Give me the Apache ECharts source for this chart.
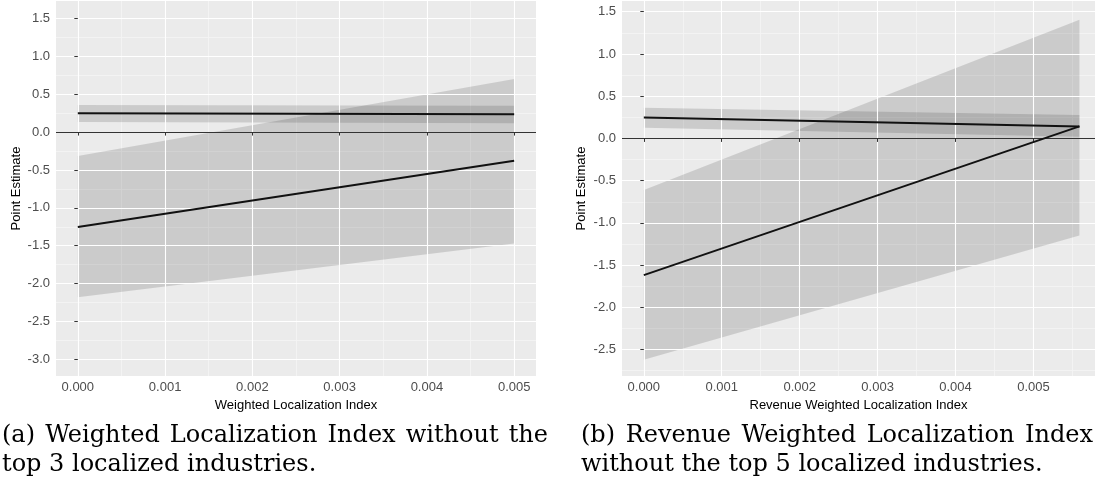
<!DOCTYPE html>
<html><head><meta charset="utf-8">
<script src="https://cdn.jsdelivr.net/npm/echarts@6/dist/echarts.min.js"></script>
<style>html,body{margin:0;padding:0;background:#fff}#c{width:1095px;height:487px}</style>
</head><body><div id="c"></div>
<script>
// ---------- data ----------
const xTickLabelsA = [0, 0.001, 0.002, 0.003, 0.004, 0.005];
const xTickLabelsB = [0, 0.001, 0.002, 0.003, 0.004, 0.005];
const yTickLabelsA = [-3.0, -2.5, -2.0, -1.5, -1.0, -0.5, 0.0, 0.5, 1.0, 1.5];
const yTickLabelsB = [-2.5, -2.0, -1.5, -1.0, -0.5, 0.0, 0.5, 1.0, 1.5];

// Panel (a)
const xA = [0, 0.005];
const estA1 = [0.247, 0.234];
const upA1 = [0.357, 0.348];
const loA1 = [0.132, 0.115];
const estA2 = [-1.253, -0.38];
const upA2 = [-0.317, 0.70];
const loA2 = [-2.18, -1.47];

// Panel (b)
const xB = [0, 0.00559];
const estB1 = [0.249, 0.142];
const upB1 = [0.364, 0.277];
const loB1 = [0.127, 0.02];
const estB2 = [-1.619, 0.142];
const upB2 = [-0.611, 1.406];
const loB2 = [-2.622, -1.149];

const xTitleA = 'Weighted Localization Index';
const xTitleB = 'Revenue Weighted Localization Index';
const yTitle = 'Point Estimate';
const captionA = ['(a) Weighted Localization Index without the', 'top 3 localized industries.'];
const captionB = ['(b) Revenue Weighted Localization Index', 'without the top 5 localized industries.'];

// ---------- helpers ----------
function minors(ticks, step) {
  const out = [];
  for (let i = 0; i < ticks.length - 1; i++) out.push(+((ticks[i] + ticks[i + 1]) / 2).toFixed(6));
  out.unshift(+(ticks[0] - step / 2).toFixed(6));
  out.push(+(ticks[ticks.length - 1] + step / 2).toFixed(6));
  return out;
}
const SANS = 'Liberation Sans';
const tickFont = 13;
const nameFont = 13;

function majorAxis(type, gi, min, max, ticks, digits, name, nameGap) {
  const isX = type === 'x';
  return {
    type: 'value', gridIndex: gi, min: min, max: max,
    position: isX ? 'bottom' : 'left',
    name: name, nameLocation: 'middle', nameGap: nameGap, nameRotate: isX ? 0 : 90,
    nameTextStyle: { color: '#000', fontFamily: SANS, fontSize: nameFont },
    axisLine: { show: false },
    axisTick: { show: true, length: 3.5, lineStyle: { color: '#333', width: 1 }, customValues: ticks },
    axisLabel: { show: true, color: '#4D4D4D', fontFamily: SANS, fontSize: tickFont, margin: isX ? 5 : 6,
      customValues: ticks, formatter: v => Number(v).toFixed(digits) },
    splitLine: { show: true, lineStyle: { color: '#FFFFFF', width: 1.1 } },
    z: 3
  };
}
function minorAxis(type, gi, min, max, ticks, step) {
  const isX = type === 'x';
  const m = minors(ticks, step).filter(v => v > min && v < max);
  return {
    type: 'value', gridIndex: gi, min: min, max: max, position: isX ? 'bottom' : 'left',
    axisLine: { show: false },
    axisTick: { show: false, customValues: m },
    axisLabel: { show: false, customValues: m },
    splitLine: { show: true, lineStyle: { color: '#F4F4F4', width: 0.9 } },
    z: 1
  };
}
function band(gi, xs, up, lo) {
  return {
    type: 'custom', xAxisIndex: gi * 2, yAxisIndex: gi * 2, silent: true, z: 2,
    data: [[xs[0], up[0]]],
    renderItem: function (params, api) {
      const pts = [];
      for (let i = 0; i < xs.length; i++) pts.push(api.coord([xs[i], up[i]]));
      for (let i = xs.length - 1; i >= 0; i--) pts.push(api.coord([xs[i], lo[i]]));
      return { type: 'polygon', shape: { points: pts }, style: { fill: 'rgba(0,0,0,0.135)' } };
    }
  };
}
function line(gi, xs, ys, withZero) {
  const s = {
    type: 'line', xAxisIndex: gi * 2, yAxisIndex: gi * 2, silent: true, z: 4,
    data: xs.map((x, i) => [x, ys[i]]), symbol: 'none',
    lineStyle: { color: '#111', width: 2 }
  };
  if (withZero) {
    s.markLine = { silent: true, symbol: 'none', label: { show: false }, z: 3,
      lineStyle: { color: '#333', width: 1, type: 'solid' }, data: [{ yAxis: 0 }] };
  }
  return s;
}

// ---------- justified captions ----------
const SERIF = 'DejaVu Serif';
const capSize = 24;
const capFont = capSize + 'px "' + SERIF + '"';
const ctx = document.createElement('canvas').getContext('2d');
ctx.font = capFont;
function textLine(str, x0, y, x1) {
  const els = [];
  if (x1 == null) {
    els.push({ type: 'text', x: x0, y: y, style: { text: str, font: capFont, fill: '#000' } });
    return els;
  }
  const words = str.split(' ');
  const widths = words.map(w => ctx.measureText(w).width);
  const total = widths.reduce((a, b) => a + b, 0);
  const gap = (x1 - x0 - total) / (words.length - 1);
  let x = x0;
  words.forEach((w, i) => {
    els.push({ type: 'text', x: x, y: y, style: { text: w, font: capFont, fill: '#000' } });
    x += widths[i] + gap;
  });
  return els;
}
const captionEls = [].concat(
  textLine(captionA[0], 2, 424, 548),
  textLine(captionA[1], 2, 453),
  textLine(captionB[0], 581, 424, 1093),
  textLine(captionB[1], 581, 453)
);

// ---------- chart ----------
const chart = echarts.init(document.getElementById('c'), null, { renderer: 'canvas' });
const yMinA = -3.22, yMaxA = 1.73, xMinA = -0.00025, xMaxA = 0.00525;
const yMinB = -2.813, yMaxB = 1.627, xMinB = -0.00028, xMaxB = 0.00579;
chart.setOption({
  animation: false,
  backgroundColor: '#fff',
  grid: [
    { left: 56, top: 1, width: 480, height: 375, show: true, backgroundColor: '#EBEBEB', borderWidth: 0, containLabel: false },
    { left: 622, top: 1, right: 0, height: 375, show: true, backgroundColor: '#EBEBEB', borderWidth: 0, containLabel: false }
  ],
  xAxis: [
    majorAxis('x', 0, xMinA, xMaxA, xTickLabelsA, 3, xTitleA, 22),
    minorAxis('x', 0, xMinA, xMaxA, xTickLabelsA, 0.001),
    majorAxis('x', 1, xMinB, xMaxB, xTickLabelsB, 3, xTitleB, 22),
    minorAxis('x', 1, xMinB, xMaxB, xTickLabelsB, 0.001)
  ],
  yAxis: [
    majorAxis('y', 0, yMinA, yMaxA, yTickLabelsA, 1, yTitle, 33),
    minorAxis('y', 0, yMinA, yMaxA, yTickLabelsA, 0.5),
    majorAxis('y', 1, yMinB, yMaxB, yTickLabelsB, 1, yTitle, 34),
    minorAxis('y', 1, yMinB, yMaxB, yTickLabelsB, 0.5)
  ],
  series: [
    { type: 'line', xAxisIndex: 1, yAxisIndex: 1, data: [], silent: true },
    { type: 'line', xAxisIndex: 3, yAxisIndex: 3, data: [], silent: true },
    band(0, xA, upA1, loA1),
    band(0, xA, upA2, loA2),
    line(0, xA, estA1, true),
    line(0, xA, estA2, false),
    band(1, xB, upB1, loB1),
    band(1, xB, upB2, loB2),
    line(1, xB, estB1, true),
    line(1, xB, estB2, false)
  ],
  graphic: captionEls
});
</script>
</body></html>
